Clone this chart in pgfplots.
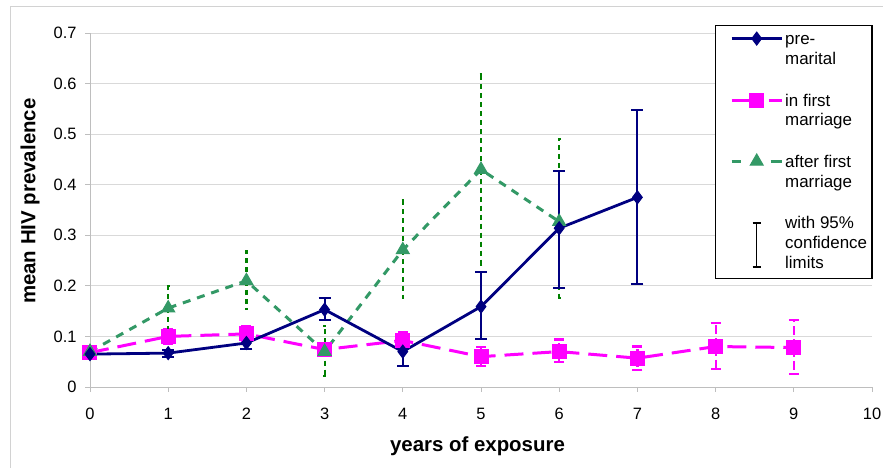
\documentclass[border=0pt]{standalone}
\usepackage{fontspec}
\setmainfont{Liberation Sans}
\usepackage{pgfplots}
\usepackage{pgfplotstable}
\pgfplotsset{compat=1.18}
\usetikzlibrary{calc}
\definecolor{navyc}{RGB}{0,0,128}
\definecolor{magc}{RGB}{255,0,255}
\definecolor{seag}{RGB}{51,153,102}
\definecolor{dgreen}{RGB}{0,128,0}
\definecolor{gridc}{RGB}{217,217,217}
\definecolor{axc}{RGB}{190,190,190}

\pgfplotstableread{
x y ep em
0 0.065 0.005 0.005
1 0.067 0.007 0.007
2 0.087 0.008 0.012
3 0.153 0.022 0.020
4 0.070 0.015 0.028
5 0.159 0.068 0.064
6 0.314 0.114 0.118
7 0.375 0.172 0.171
}\premarital

\pgfplotstableread{
x y ep em
0 0.068 0.005 0.005
1 0.100 0.015 0.015
2 0.105 0.016 0.015
3 0.074 0.008 0.008
4 0.092 0.016 0.015
5 0.060 0.019 0.018
6 0.070 0.024 0.021
7 0.057 0.023 0.024
8 0.080 0.047 0.044
9 0.078 0.055 0.052
}\inmarriage

\pgfplotstableread{
x y ep em
0 0.070 0.004 0.004
1 0.156 0.043 0.043
2 0.210 0.058 0.056
3 0.070 0.050 0.049
4 0.271 0.099 0.095
5 0.430 0.188 0.188
6 0.327 0.163 0.151
}\aftermarriage

\tikzset{
  navystyle/.style={color=navyc, line width=2.8bp, solid, mark=diamond*, mark size=6.5bp, mark options={solid, fill=navyc, line width=1bp}},
  magstyle/.style={color=magc, line width=3bp, dash pattern=on 19bp off 9bp, mark=square*, mark size=7bp, mark options={solid, fill=magc, line width=1bp}},
  greenstyle/.style={color=seag, line width=3bp, dash pattern=on 8bp off 7bp, mark=triangle*, mark size=7.5bp, mark options={solid, fill=seag, line width=1bp}},
}
\newcommand{\legfont}{\fontsize{17}{20}\selectfont}

\begin{document}
\begin{tikzpicture}
\begin{axis}[name=ax, scale only axis, width=782bp, height=354bp,
  xmin=0, xmax=10, ymin=0, ymax=0.7,
  xtick={0,1,2,3,4,5,6,7,8,9,10},
  ytick={0,0.1,0.2,0.3,0.4,0.5,0.6,0.7},
  axis x line*=bottom, axis y line*=left,
  axis line style={axc, line width=0.8bp},
  ymajorgrids, grid style={gridc, line width=0.8bp},
  tick style={axc, line width=0.8bp}, tick align=outside, major tick length=5bp,
  /pgf/number format/assume math mode=true,
  yticklabel style={/pgf/number format/fixed, /pgf/number format/precision=1, xshift=-5bp},
  xticklabel style={yshift=-13bp},
  ticklabel style={font=\fontsize{16.5}{18}\selectfont, text=black},
  xlabel={years of exposure}, ylabel={mean HIV prevalence},
  label style={font=\fontsize{20.5}{22}\selectfont\bfseries},
  xlabel style={at={(axis description cs:0.4955,-0.166)}, anchor=center},
  ylabel style={at={(axis description cs:-0.0767,0.525)}, anchor=center},
  legend image code/.code={\path (-4bp,6bp); \draw[mark repeat=2,mark phase=2,#1] plot coordinates {(8bp,6bp) (33bp,6bp) (58bp,6bp)};},
  legend style={at={(axis description cs:1.001,1.0226)}, anchor=north east,
    draw=black, line width=1.3bp, fill=white, inner sep=3bp,
    font=\legfont,
    cells={anchor=base west}, nodes={inner sep=2bp, font=\legfont},
    row sep=42bp, column sep=0bp},
]
\addlegendimage{navystyle}
\addlegendentry{\legfont\begin{tabular}[t]{@{}l@{}}pre-\\marital\end{tabular}}
\addlegendimage{magstyle, dash pattern=on 28bp off 9bp on 13bp off 10bp}
\addlegendentry{\legfont\begin{tabular}[t]{@{}l@{}}in first\\marriage\end{tabular}}
\addlegendimage{greenstyle, dash pattern=on 9bp off 30bp on 11bp off 10bp}
\addlegendentry{\legfont\begin{tabular}[t]{@{}l@{}}after first\\marriage\end{tabular}}
\addlegendimage{legend image code/.code={
  \path (-4bp,6bp);
  \draw[black, line width=1.3bp] (33bp,6bp) -- (33bp,-38bp);
  \draw[black, line width=1.3bp] (29bp,6bp) -- (37bp,6bp);
  \draw[black, line width=1.3bp] (29bp,-38bp) -- (37bp,-38bp);
  \path (33bp,-46bp);}}
\addlegendentry{\legfont\begin{tabular}[t]{@{}l@{}}with 95\%\\confidence\\limits\end{tabular}}

\addplot[magstyle, forget plot,
  error bars/.cd, y dir=both, y explicit,
  error bar style={magc, line width=2.2bp, dash pattern=on 9bp off 4bp},
  error mark options={magc, solid, line width=2.2bp, mark size=5bp, rotate=90}]
  table[x=x, y=y, y error plus=ep, y error minus=em] {\inmarriage};

\addplot[greenstyle, forget plot,
  error bars/.cd, y dir=both, y explicit,
  error bar style={dgreen, line width=2.2bp, dash pattern=on 5bp off 4bp},
  error mark options={dgreen, solid, line width=2.2bp, mark size=1.3bp, rotate=90}]
  table[x=x, y=y, y error plus=ep, y error minus=em] {\aftermarriage};

\addplot[navystyle, forget plot,
  error bars/.cd, y dir=both, y explicit,
  error bar style={navyc, solid, line width=2bp},
  error mark options={navyc, solid, line width=2bp, mark size=6bp, rotate=90}]
  table[x=x, y=y, y error plus=ep, y error minus=em] {\premarital};
\end{axis}
\draw[gray!35, line width=1bp] ($(ax.south west)+(-79bp,-81bp)$) -- ($(ax.south west)+(-79bp,380bp)$) -- ($(ax.south east)+(11bp,380bp)$);
\pgfresetboundingbox
\path[use as bounding box] ($(ax.south west)+(-90bp,-81bp)$) rectangle ($(ax.north east)+(11bp,33bp)$);
\end{tikzpicture}
\end{document}
